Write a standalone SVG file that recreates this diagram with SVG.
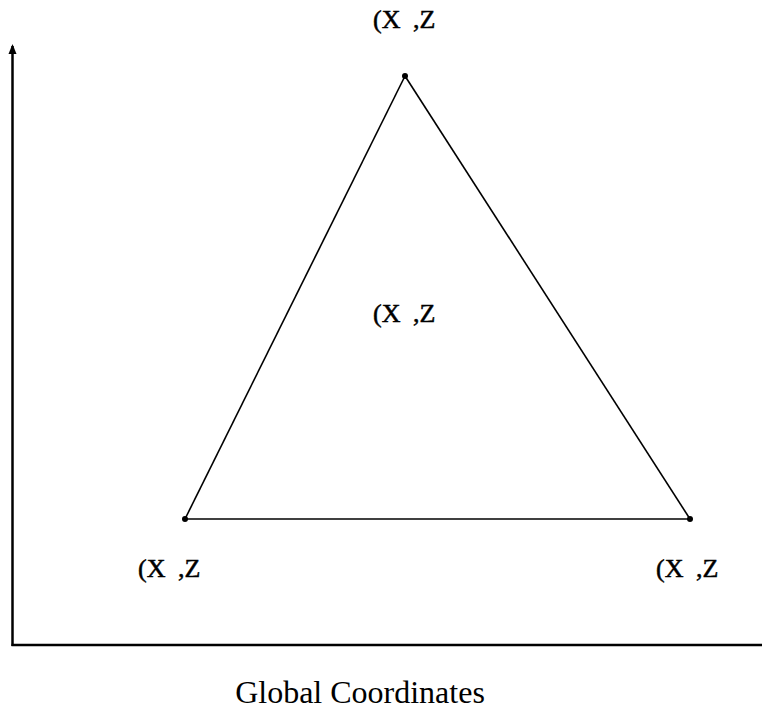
<svg xmlns="http://www.w3.org/2000/svg" width="762" height="716" viewBox="0 0 762 716">
<style>
.ax{stroke:#000;stroke-width:2.5;fill:none}
.edge{stroke:#000;stroke-width:1.6;fill:none}
.lbl{font-family:"Liberation Serif",serif;font-size:26px;fill:#000;stroke:#000;stroke-width:0.5}
.title{font-family:"Liberation Serif",serif;font-size:32px;fill:#000}
</style>
<g id="axes">
<line class="ax" x1="12.5" y1="646" x2="12.5" y2="46"/>
<path d="M8.5,54 L12.5,44 L16.5,54 Z" fill="#000"/>
<line class="ax" x1="11.5" y1="645" x2="762" y2="645"/>
</g>
<g id="connectors">
<line class="edge" x1="405" y1="76" x2="185" y2="519"/>
<line class="edge" x1="405" y1="76" x2="690" y2="519"/>
<line class="edge" x1="185" y1="519" x2="690" y2="519"/>
</g>
<g id="node-top">
<circle cx="405" cy="76" r="3" fill="#000"/>
<text class="lbl" x="373" y="28">(X</text><text class="lbl" x="413" y="28">,Z</text>
</g>
<g id="node-center">
<text class="lbl" x="373" y="322">(X</text><text class="lbl" x="413" y="322">,Z</text>
</g>
<g id="node-left">
<circle cx="185" cy="519" r="3" fill="#000"/>
<text class="lbl" x="138" y="577">(X</text><text class="lbl" x="178" y="577">,Z</text>
</g>
<g id="node-right">
<circle cx="690" cy="519" r="3" fill="#000"/>
<text class="lbl" x="656" y="577">(X</text><text class="lbl" x="696" y="577">,Z</text>
</g>
<text class="title" x="360" y="703" text-anchor="middle">Global Coordinates</text>
</svg>
